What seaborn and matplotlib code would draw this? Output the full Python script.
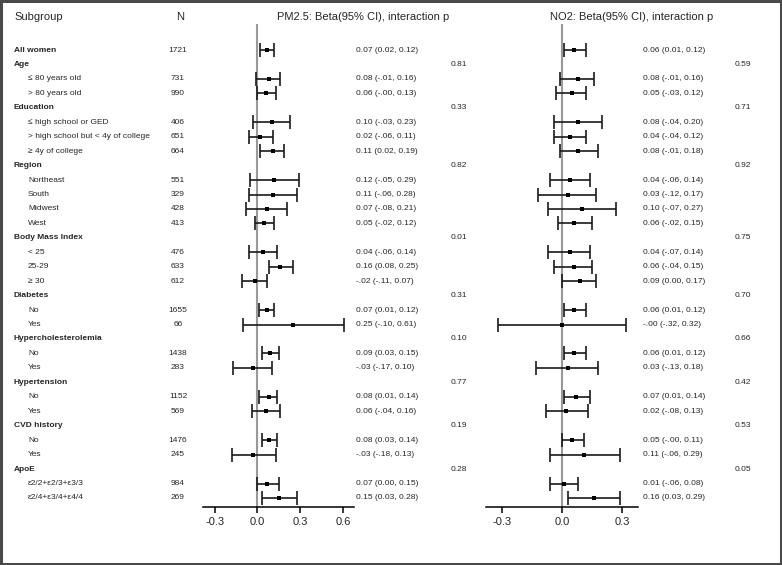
import matplotlib
matplotlib.use("Agg")
import matplotlib.pyplot as plt
import numpy as np
import pandas as pd
import seaborn as sns
from matplotlib.patches import Rectangle

sns.set_style("white")
plt.rcParams["font.family"] = ["Liberation Sans", "DejaVu Sans"]

# ---- data ----
groups = ["All women", "Age", "Education", "Region", "Body Mass Index", "Diabetes",
          "Hypercholesterolemia", "Hypertension", "CVD history", "ApoE"]
subgroups = [
    [],
    ["\u2264 80 years old", "> 80 years old"],
    ["\u2264 high school or GED", "> high school but < 4y of college", "\u2265 4y of college"],
    ["Northeast", "South", "Midwest", "West"],
    ["< 25", "25-29", "\u2265 30"],
    ["No", "Yes"],
    ["No", "Yes"],
    ["No", "Yes"],
    ["No", "Yes"],
    ["\u03b52/2+\u03b52/3+\u03b53/3", "\u03b52/4+\u03b53/4+\u03b54/4"],
]
n_obs = [1721, 731, 990, 406, 651, 664, 551, 329, 428, 413, 476, 633, 612,
         1655, 66, 1438, 283, 1152, 569, 1476, 245, 984, 269]

pm_est = [0.07, 0.08, 0.06, 0.10, 0.02, 0.11, 0.12, 0.11, 0.07, 0.05, 0.04, 0.16, -0.02,
          0.07, 0.25, 0.09, -0.03, 0.08, 0.06, 0.08, -0.03, 0.07, 0.15]
pm_lo = [0.02, -0.01, -0.0, -0.03, -0.06, 0.02, -0.05, -0.06, -0.08, -0.02, -0.06, 0.08, -0.11,
         0.01, -0.10, 0.03, -0.17, 0.01, -0.04, 0.03, -0.18, 0.00, 0.03]
pm_hi = [0.12, 0.16, 0.13, 0.23, 0.11, 0.19, 0.29, 0.28, 0.21, 0.12, 0.14, 0.25, 0.07,
         0.12, 0.61, 0.15, 0.10, 0.14, 0.16, 0.14, 0.13, 0.15, 0.28]
pm_p = [None, 0.81, 0.33, 0.82, 0.01, 0.31, 0.10, 0.77, 0.19, 0.28]

no2_est = [0.06, 0.08, 0.05, 0.08, 0.04, 0.08, 0.04, 0.03, 0.10, 0.06, 0.04, 0.06, 0.09,
           0.06, -0.0, 0.06, 0.03, 0.07, 0.02, 0.05, 0.11, 0.01, 0.16]
no2_lo = [0.01, -0.01, -0.03, -0.04, -0.04, -0.01, -0.06, -0.12, -0.07, -0.02, -0.07, -0.04, 0.00,
          0.01, -0.32, 0.01, -0.13, 0.01, -0.08, -0.0, -0.06, -0.06, 0.03]
no2_hi = [0.12, 0.16, 0.12, 0.20, 0.12, 0.18, 0.14, 0.17, 0.27, 0.15, 0.14, 0.15, 0.17,
          0.12, 0.32, 0.12, 0.18, 0.14, 0.13, 0.11, 0.29, 0.08, 0.29]
no2_p = [None, 0.59, 0.71, 0.92, 0.75, 0.70, 0.66, 0.42, 0.53, 0.05]

pm_ticks = [-0.3, 0.0, 0.3, 0.6]
no2_ticks = [-0.3, 0.0, 0.3]


def fmt(v):
    s = f"{abs(v):.2f}"
    if np.signbit(v):
        s = "-" + s[1:]
    return s


# build row layout: group header rows and subgroup rows
rows = []  # (row_index, label, kind, group_idx, data_idx)
r = 0
k = 0
for gi, g in enumerate(groups):
    if not subgroups[gi]:
        rows.append((r, g, "single", gi, k))
        k += 1
        r += 1
        continue
    rows.append((r, g, "header", gi, None))
    r += 1
    for s in subgroups[gi]:
        rows.append((r, s, "sub", gi, k))
        k += 1
        r += 1

data_rows = [row[0] for row in rows if row[4] is not None]
df = pd.DataFrame({
    "row": data_rows,
    "pm": pm_est, "pm_lo": pm_lo, "pm_hi": pm_hi,
    "no2": no2_est, "no2_lo": no2_lo, "no2_hi": no2_hi,
})

# ---- figure ----
W, H = 782, 565
fig = plt.figure(figsize=(W / 100, H / 100), dpi=100)
y0, dy = 50, 14.45          # pixel position of first row, row spacing
top_px, axis_px = 24, 507   # reference line top / x axis position

# text layer in pixel coordinates
ax_txt = fig.add_axes([0, 0, 1, 1])
ax_txt.set_xlim(0, W)
ax_txt.set_ylim(H, 0)
ax_txt.axis("off")

hdr_fs = 8
fs = 6
ax_txt.text(14, 17, "Subgroup", fontsize=hdr_fs, va="center")
ax_txt.text(180, 17, "N", fontsize=hdr_fs, va="center", ha="center")
ax_txt.text(363, 17, "PM2.5: Beta(95% CI), interaction p", fontsize=hdr_fs, va="center", ha="center")
ax_txt.text(632, 17, "NO2: Beta(95% CI), interaction p", fontsize=hdr_fs, va="center", ha="center")

for ri, label, kind, gi, di in rows:
    y = y0 + dy * ri
    if kind == "sub":
        ax_txt.text(28, y, label, fontsize=fs, va="center")
    else:
        ax_txt.text(14, y, label, fontsize=fs, va="center", fontweight="bold")
    if kind == "header":
        ax_txt.text(459, y, f"{pm_p[gi]:.2f}", fontsize=fs, va="center", ha="center")
        ax_txt.text(743, y, f"{no2_p[gi]:.2f}", fontsize=fs, va="center", ha="center")
    if di is not None:
        ax_txt.text(178, y, str(n_obs[di]), fontsize=fs, va="center", ha="center")
        ax_txt.text(356, y, f"{fmt(pm_est[di])} ({fmt(pm_lo[di])}, {fmt(pm_hi[di])})",
                    fontsize=fs, va="center")
        ax_txt.text(643, y, f"{fmt(no2_est[di])} ({fmt(no2_lo[di])}, {fmt(no2_hi[di])})",
                    fontsize=fs, va="center")

# forest panels
ylim = ((axis_px - y0) / dy, (top_px - y0) / dy)
bottom = 1 - axis_px / H
height = (axis_px - top_px) / H


def forest(left_px, right_px, xlim, col, ticks):
    ax = fig.add_axes([left_px / W, bottom, (right_px - left_px) / W, height])
    ax.patch.set_alpha(0)
    ax.axvline(0, color="#999999", lw=1.5, zorder=1)
    ax.errorbar(df[col], df["row"],
                xerr=[df[col] - df[col + "_lo"], df[col + "_hi"] - df[col]],
                fmt="none", ecolor="#1a1a1a", elinewidth=1.2, capsize=5, capthick=1.2, zorder=2)
    sns.scatterplot(data=df, x=col, y="row", marker="s", s=6, color="black",
                    edgecolor="black", linewidth=0, ax=ax, zorder=3)
    ax.set_xlim(*xlim)
    ax.set_ylim(*ylim)
    ax.set_xticks(ticks)
    ax.set_xticklabels([f"{t:.1f}" for t in ticks])
    ax.set_yticks([])
    ax.set_xlabel("")
    ax.set_ylabel("")
    sns.despine(ax=ax, left=True)
    ax.spines["bottom"].set_linewidth(1.1)
    ax.spines["bottom"].set_color("black")
    ax.tick_params(axis="x", direction="out", length=4, width=1.1, color="black",
                   labelsize=8, pad=3, bottom=True)
    return ax


forest(203.2, 354.3, (-0.38, 0.68), "pm", pm_ticks)
forest(486.3, 638.3, (-0.38, 0.38), "no2", no2_ticks)

# outer frame
fig.patches.append(Rectangle((0.0015, 0.002), 0.997, 0.996, transform=fig.transFigure,
                             fill=False, edgecolor="#4a4a4a", lw=2.2))

fig.savefig("out.png", dpi=100)
